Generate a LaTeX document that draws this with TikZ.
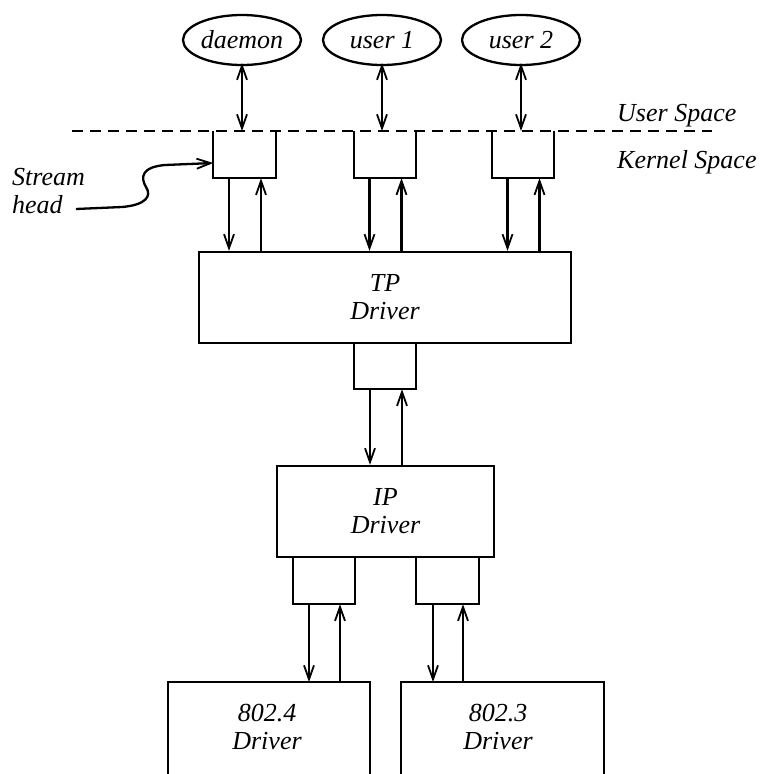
\documentclass[tikz,border=0pt]{standalone}
\usepackage{fontspec}
\setmainfont{Liberation Serif}
\usetikzlibrary{shapes.geometric,arrows.meta}
\begin{document}
\begin{tikzpicture}[x=1pt,y=-1pt,
  every node/.style={font=\fontsize{26}{28}\selectfont\itshape},
  lw/.style={line width=2.3pt},
  tip/.tip={Straight Barb[length=14pt,width=10pt,line width=1.8pt]},
  proc/.style={ellipse,draw,lw,minimum width=118pt,minimum height=50pt,inner sep=0pt},
  modbox/.style={minimum width=62pt,minimum height=47pt,inner sep=0pt},
  drv/.style={draw,lw,inner sep=0pt,align=center},
  lbl/.style={inner sep=0pt,anchor=base west},
  arr/.style={lw,-tip},
  darr/.style={lw,tip-tip},
  sides/.style={lw}
]
\useasboundingbox (0,0) rectangle (763,774);

% processes
\node[proc] (daemon) at (242,40) {daemon};
\node[proc] (user1) at (382,40) {user 1};
\node[proc] (user2) at (521,40) {user 2};

% boundary
\coordinate (dl) at (72,131);
\coordinate (dr) at (712,131);
\draw[lw,dash pattern=on 11pt off 7pt] (dl) -- (dr);
\node[lbl] (us) at (617,121) {User Space};
\node[lbl] (ks) at (617,168) {Kernel Space};

% stream heads
\node[modbox] (sh1) at (244.5,154.5) {};
\node[modbox] (sh2) at (385,154.5) {};
\node[modbox] (sh3) at (523,154.5) {};
\foreach \s in {sh1,sh2,sh3}
  \draw[sides] (\s.north west) -- (\s.south west) -- (\s.south east) -- (\s.north east);

\draw[darr] ([yshift=3pt]daemon.south) -- (daemon.south |- dl);
\draw[darr] ([yshift=3pt]user1.south) -- (user1.south |- dl);
\draw[darr] ([yshift=3pt]user2.south) -- (user2.south |- dl);

% TP driver
\node[drv,minimum width=372pt,minimum height=91pt] (tp) at (385,297.5) {TP\\Driver};

\foreach \s in {sh1,sh2,sh3}{
  \draw[arr] ([xshift=-15.5pt]\s.south) -- ([xshift=-15.5pt]\s.south |- tp.north);
  \draw[arr] ([xshift=16.5pt]\s.south |- tp.north) -- ([xshift=16.5pt]\s.south);
}

% TP lower module
\node[modbox,minimum height=46pt] (tpm) at (385,366) {};
\draw[sides] (tpm.north west) -- (tpm.south west) -- (tpm.south east) -- (tpm.north east);

% IP driver
\node[drv,minimum width=217pt,minimum height=91pt] (ip) at (385.5,511.5) {IP\\Driver};
\draw[arr] ([xshift=-15pt]tpm.south) -- ([xshift=-15pt]tpm.south |- ip.north);
\draw[arr] ([xshift=17pt]tpm.south |- ip.north) -- ([xshift=17pt]tpm.south);

% IP lower modules
\node[modbox] (ipl) at (324,580.5) {};
\node[modbox] (ipr) at (447.5,580.5) {};
\foreach \s in {ipl,ipr}
  \draw[sides] (\s.north west) -- (\s.south west) -- (\s.south east) -- (\s.north east);

% network drivers (cut off at bottom)
\coordinate (aTL) at (168,682);
\coordinate (aTR) at (370,682);
\coordinate (bTL) at (401,682);
\coordinate (bTR) at (604,682);
\draw[lw] (168,790) -- (aTL) -- (aTR) -- (370,790);
\draw[lw] (401,790) -- (bTL) -- (bTR) -- (604,790);
\node[inner sep=0pt,align=center] (d4) at (267,727) {802.4\\Driver};
\node[inner sep=0pt,align=center] (d3) at (498,727) {802.3\\Driver};

\draw[arr] ([xshift=-15pt]ipl.south) -- ([xshift=-15pt]ipl.south |- aTL);
\draw[arr] ([xshift=16pt]ipl.south |- aTL) -- ([xshift=16pt]ipl.south);
\draw[arr] ([xshift=-14.5pt]ipr.south) -- ([xshift=-14.5pt]ipr.south |- bTL);
\draw[arr] ([xshift=15.5pt]ipr.south |- bTL) -- ([xshift=15.5pt]ipr.south);

% stream head label
\node[inner sep=0pt,align=left,anchor=base west,font=\fontsize{26}{28}\selectfont\itshape] (shl) at (12,213) {Stream\\head};
\coordinate (shs) at (76,209);
\draw[lw,-tip] (shs) -- (122,207)
  .. controls (146,205) and (152,196) .. (146,187)
  .. controls (140,177) and (142,167) .. (165,165)
  -- (sh1.west |- 0,163);
\end{tikzpicture}
\end{document}
